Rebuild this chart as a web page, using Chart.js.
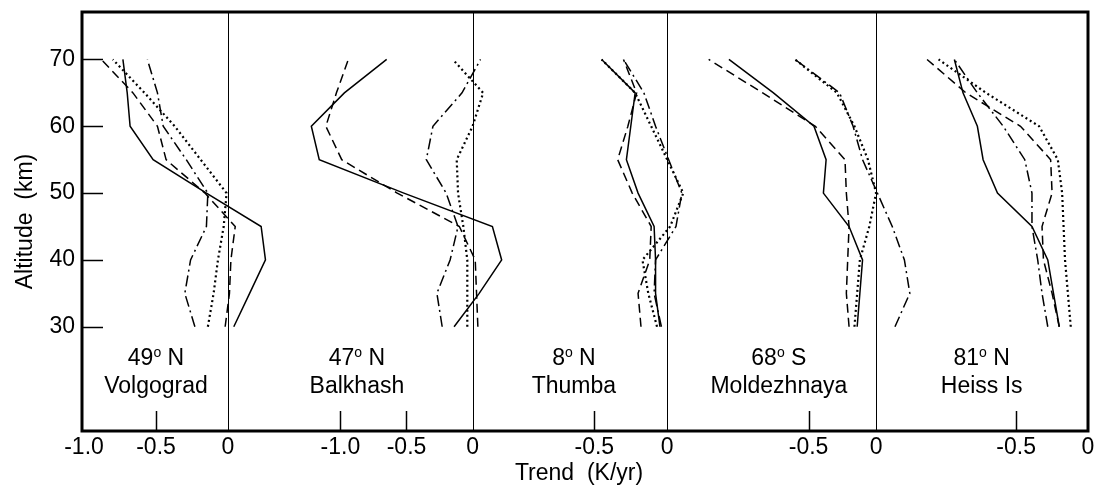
<!DOCTYPE html>
<html>
<head>
<meta charset="utf-8">
<script src="https://cdn.jsdelivr.net/npm/chart.js@4.4.1/dist/chart.umd.min.js"></script>
<style>
    html, body { margin: 0; padding: 0; background: #fff; }
    #wrap { width: 1094px; height: 485px; }
</style>
</head>
<body>
<div id="wrap"><canvas id="trendChart" width="1094" height="485"></canvas></div>
<script>
// altitude levels (km) shared by all profiles
const altitudes = [30, 35, 40, 45, 50, 55, 60, 65, 70];

// trend (K/yr) per station, one row per curve: solid, dashed, dotted, dash-dot
const volgograd = [
    [0.04, 0.15, 0.26, 0.23, -0.15, -0.52, -0.68, -0.70, -0.73],
    [-0.02, 0.01, 0.02, 0.05, -0.16, -0.43, -0.49, -0.66, -0.88],
    [-0.14, -0.10, -0.07, -0.03, -0.01, -0.19, -0.37, -0.58, -0.80],
    [-0.23, -0.30, -0.26, -0.15, -0.14, -0.29, -0.45, -0.49, -0.56]
];
const balkhash = [
    [-0.14, 0.05, 0.22, 0.15, -0.52, -1.16, -1.22, -0.97, -0.65],
    [0.04, 0.03, 0.02, -0.10, -0.57, -0.99, -1.11, -1.03, -0.94],
    [-0.04, -0.04, -0.04, -0.07, -0.11, -0.12, 0.00, 0.08, -0.15],
    [-0.23, -0.27, -0.17, -0.11, -0.20, -0.35, -0.30, -0.08, 0.06]
];
const thumba = [
    [-0.05, -0.08, -0.08, -0.09, -0.20, -0.28, -0.25, -0.22, -0.45],
    [-0.18, -0.20, -0.12, -0.11, -0.24, -0.34, -0.27, -0.21, -0.30],
    [-0.07, -0.13, -0.17, 0.02, 0.11, 0.00, -0.11, -0.22, -0.45],
    [-0.04, -0.09, -0.08, 0.06, 0.10, 0.01, -0.08, -0.16, -0.30]
];
const moldezhnaya = [
    [-0.14, -0.12, -0.10, -0.20, -0.39, -0.37, -0.46, -0.76, -1.09],
    [-0.20, -0.22, -0.21, -0.20, -0.22, -0.23, -0.45, -0.84, -1.24],
    [-0.16, -0.14, -0.12, -0.05, 0.00, -0.06, -0.16, -0.29, -0.60],
    [0.14, 0.25, 0.21, 0.12, 0.01, -0.10, -0.17, -0.27, -0.60]
];
const heissIs = [
    [-0.20, -0.24, -0.28, -0.39, -0.63, -0.73, -0.77, -0.87, -0.93],
    [-0.20, -0.25, -0.31, -0.32, -0.25, -0.26, -0.47, -0.85, -1.12],
    [-0.12, -0.14, -0.16, -0.17, -0.18, -0.21, -0.34, -0.71, -1.04],
    [-0.28, -0.32, -0.35, -0.39, -0.39, -0.44, -0.59, -0.77, -0.93]
];

const stations = ["Volgograd", "Balkhash", "Thumba", "Moldezhnaya", "Heiss Is"];
const latitudes = ["49", "47", "8", "68", "81"];
const hemispheres = ["N", "N", "N", "S", "N"];
const yTicks = [30, 40, 50, 60, 70];
const xTicks = [[-1.0, -0.5, 0], [-1.0, -0.5, 0], [-0.5, 0], [-0.5, 0], [-0.5, 0]];

const profiles = [volgograd, balkhash, thumba, moldezhnaya, heissIs];

// each panel has its own trend axis laid over the full width
const panelRanges = [[-1.014, 5.972], [-2.955, 4.656], [-4.014, 2.886], [-5.882, 1.570], [-7.002, 0]];
const labelX = [-0.5, -0.875, -0.64, -0.72, -0.74];

const lineStyles = [
    { borderDash: [], borderWidth: 1.5 },
    { borderDash: [9, 5], borderWidth: 1.5 },
    { borderDash: [2, 3], borderWidth: 2.2 },
    { borderDash: [11, 4, 2, 4], borderWidth: 1.5 }
];

Chart.defaults.font.family = "'Liberation Sans', Arial, Helvetica, sans-serif";
Chart.defaults.color = "#000";

var datasets = [];
profiles.forEach(function (station, p) {
    station.forEach(function (values, k) {
        datasets.push({
            label: stations[p] + " " + k,
            data: values.map((v, i) => ({ x: v, y: altitudes[i] })),
            xAxisID: "x" + (p + 1),
            yAxisID: "y",
            borderColor: "#000",
            borderWidth: lineStyles[k].borderWidth,
            borderDash: lineStyles[k].borderDash,
            pointRadius: 0,
            tension: 0,
            fill: false
        });
    });
});

var scales = {
    y: {
        type: "linear",
        position: "left",
        min: 14.4,
        max: 77.1,
        afterBuildTicks: function (s) { s.ticks = yTicks.map(v => ({ value: v })); },
        afterFit: function (s) {
            s.width = 82;
            s.paddingTop = 0;
            s.paddingBottom = 0;
        },
        grid: { display: false, drawTicks: false },
        border: { display: false },
        ticks: { color: "#000", font: { size: 23 }, padding: 7 },
        title: {
            display: true,
            text: "Altitude  (km)",
            color: "#000",
            font: { size: 23 },
            padding: { top: 12, bottom: 0 }
        }
    }
};
panelRanges.forEach(function (r, p) {
    scales["x" + (p + 1)] = { type: "linear", position: "bottom", display: false, min: r[0], max: r[1] };
});

function tickText(v) {
    return v === 0 ? "0" : v.toFixed(1);
}

// frame, zero lines, inner ticks and all the free text
const panelDecor = {
    id: "panelDecor",
    afterDatasetsDraw(chart) {
        const ctx = chart.ctx;
        const area = chart.chartArea;
        const yScale = chart.scales.y;
        ctx.save();
        ctx.strokeStyle = "#000";
        ctx.fillStyle = "#000";

        ctx.lineWidth = 1;
        for (let p = 0; p < 4; p++) {
            const px = Math.round(chart.scales["x" + (p + 1)].getPixelForValue(0)) + 0.5;
            ctx.beginPath();
            ctx.moveTo(px, area.top);
            ctx.lineTo(px, area.bottom);
            ctx.stroke();
        }

        ctx.lineWidth = 1.5;
        yTicks.forEach(v => {
            const py = Math.round(yScale.getPixelForValue(v)) + 0.5;
            ctx.beginPath();
            ctx.moveTo(area.left, py);
            ctx.lineTo(area.left + 21, py);
            ctx.stroke();
        });
        xTicks.forEach((ticks, p) => {
            const xs = chart.scales["x" + (p + 1)];
            ticks.forEach(v => {
                const px = Math.round(xs.getPixelForValue(v)) + 0.5;
                if (v === 0 || px - area.left < 6) return;
                ctx.beginPath();
                ctx.moveTo(px, area.bottom);
                ctx.lineTo(px, area.bottom - 20);
                ctx.stroke();
            });
        });

        ctx.lineWidth = 3;
        ctx.strokeRect(area.left, area.top, area.right - area.left, area.bottom - area.top);

        const font = "'Liberation Sans', Arial, Helvetica, sans-serif";
        ctx.font = "23px " + font;
        ctx.textBaseline = "alphabetic";
        ctx.textAlign = "center";
        xTicks.forEach((ticks, p) => {
            const xs = chart.scales["x" + (p + 1)];
            ticks.forEach(v => {
                ctx.fillText(tickText(v), xs.getPixelForValue(v), area.bottom + 23);
            });
        });
        ctx.fillText("Trend  (K/yr)", (area.left + area.right) / 2 - 6, area.bottom + 49);

        // station names with latitude
        stations.forEach((name, p) => {
            const cx = chart.scales["x" + (p + 1)].getPixelForValue(labelX[p]);
            ctx.font = "23px " + font;
            ctx.textAlign = "center";
            ctx.fillText(name, cx, area.bottom - 38);

            const num = latitudes[p];
            const hemi = " " + hemispheres[p];
            const wNum = ctx.measureText(num).width;
            const wHemi = ctx.measureText(hemi).width;
            ctx.font = "14px " + font;
            const wO = ctx.measureText("o").width;
            let x = cx - (wNum + wO + wHemi) / 2;
            const base = area.bottom - 66;
            ctx.textAlign = "left";
            ctx.font = "23px " + font;
            ctx.fillText(num, x, base);
            x += wNum;
            ctx.font = "14px " + font;
            ctx.fillText("o", x, base - 8);
            x += wO;
            ctx.font = "23px " + font;
            ctx.fillText(hemi, x, base);
        });
        ctx.restore();
    }
};

new Chart(document.getElementById("trendChart").getContext("2d"), {
    type: "line",
    data: { datasets: datasets },
    options: {
        responsive: false,
        animation: false,
        layout: { padding: { left: 0, right: 6, top: 12, bottom: 54 } },
        plugins: { legend: { display: false }, tooltip: { enabled: false } },
        scales: scales
    },
    plugins: [panelDecor]
});
</script>
</body>
</html>
